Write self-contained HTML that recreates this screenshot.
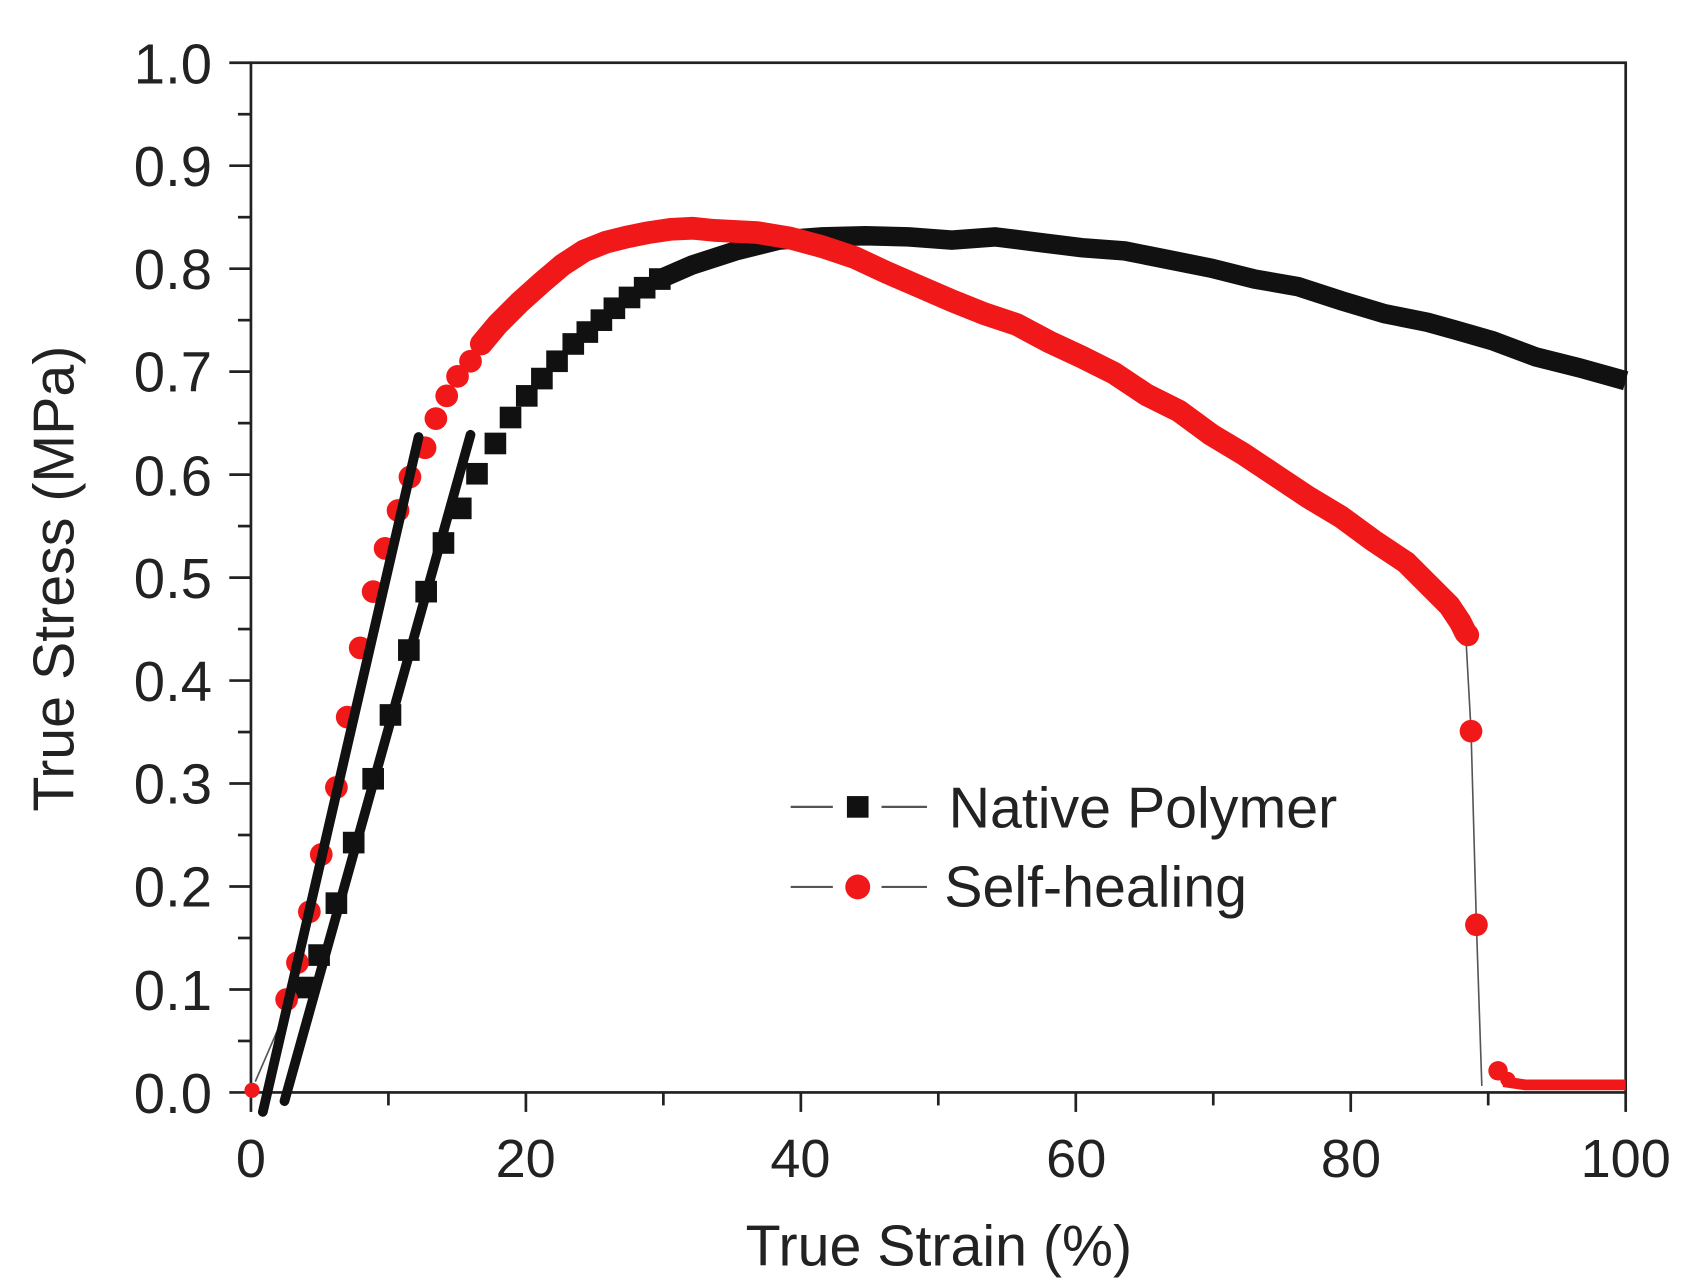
<!DOCTYPE html>
<html><head><meta charset="utf-8"><style>
html,body{margin:0;padding:0;background:#fff;}
svg{display:block;}
text{font-family:"Liberation Sans",sans-serif;fill:#222;}
</style></head><body>
<svg width="1696" height="1288" viewBox="0 0 1568 1190.8" xmlns="http://www.w3.org/2000/svg">
<rect width="1568" height="1190.8" fill="#fff"/>
<rect x="232" y="58" width="1271" height="952" fill="none" stroke="#222" stroke-width="2.5"/>
<g stroke="#222" stroke-width="2.5">
<line x1="212" y1="58" x2="232" y2="58"/><line x1="212" y1="153.2" x2="232" y2="153.2"/><line x1="212" y1="248.4" x2="232" y2="248.4"/><line x1="212" y1="343.6" x2="232" y2="343.6"/><line x1="212" y1="438.8" x2="232" y2="438.8"/><line x1="212" y1="534" x2="232" y2="534"/><line x1="212" y1="629.2" x2="232" y2="629.2"/><line x1="212" y1="724.4" x2="232" y2="724.4"/><line x1="212" y1="819.6" x2="232" y2="819.6"/><line x1="212" y1="914.8" x2="232" y2="914.8"/><line x1="212" y1="1010" x2="232" y2="1010"/>
<line x1="220" y1="105.6" x2="232" y2="105.6"/><line x1="220" y1="200.8" x2="232" y2="200.8"/><line x1="220" y1="296" x2="232" y2="296"/><line x1="220" y1="391.2" x2="232" y2="391.2"/><line x1="220" y1="486.4" x2="232" y2="486.4"/><line x1="220" y1="581.6" x2="232" y2="581.6"/><line x1="220" y1="676.8" x2="232" y2="676.8"/><line x1="220" y1="772" x2="232" y2="772"/><line x1="220" y1="867.2" x2="232" y2="867.2"/><line x1="220" y1="962.4" x2="232" y2="962.4"/>
<line x1="232" y1="1010" x2="232" y2="1028"/><line x1="486.2" y1="1010" x2="486.2" y2="1028"/><line x1="740.4" y1="1010" x2="740.4" y2="1028"/><line x1="994.6" y1="1010" x2="994.6" y2="1028"/><line x1="1248.8" y1="1010" x2="1248.8" y2="1028"/><line x1="1503" y1="1010" x2="1503" y2="1028"/>
<line x1="359.1" y1="1010" x2="359.1" y2="1022"/><line x1="613.3" y1="1010" x2="613.3" y2="1022"/><line x1="867.5" y1="1010" x2="867.5" y2="1022"/><line x1="1121.7" y1="1010" x2="1121.7" y2="1022"/><line x1="1375.9" y1="1010" x2="1375.9" y2="1022"/>
</g>
<g font-size="52" text-anchor="end">
<text x="196" y="77">1.0</text><text x="196" y="172">0.9</text><text x="196" y="267">0.8</text><text x="196" y="362">0.7</text><text x="196" y="458">0.6</text><text x="196" y="553">0.5</text><text x="196" y="648">0.4</text><text x="196" y="743">0.3</text><text x="196" y="838">0.2</text><text x="196" y="934">0.1</text><text x="196" y="1029">0.0</text>
</g>
<g font-size="50" text-anchor="middle">
<text x="232" y="1088">0</text><text x="486" y="1088">20</text><text x="740" y="1088">40</text><text x="995" y="1088">60</text><text x="1249" y="1088">80</text><text x="1503" y="1088">100</text>
</g>
<text x="868" y="1170" font-size="53" text-anchor="middle">True Strain (%)</text>
<text transform="translate(68,535) rotate(-90)" font-size="53" text-anchor="middle">True Stress (MPa)</text>

<polyline points="236,1000 262,940 283,913" fill="none" stroke="#555" stroke-width="1.5"/>
<polyline points="1355,585 1360,675 1365,855 1370,1004" fill="none" stroke="#555" stroke-width="1.5"/>

<polyline points="610,258 640,245 680,232 720,222 760,219 800,218 840,219 880,222 920,219 960,224 1000,229 1040,232 1080,240 1120,248 1160,258 1200,265 1240,278 1280,290 1320,298 1345,305 1380,315 1420,330 1460,340 1503,352" fill="none" stroke="#111" stroke-width="18"/>
<g fill="#111">
<rect x="273" y="903" width="20" height="20"/><rect x="285" y="873" width="20" height="20"/><rect x="301" y="825" width="20" height="20"/><rect x="317" y="769" width="20" height="20"/><rect x="335" y="710" width="20" height="20"/><rect x="351" y="651" width="20" height="20"/><rect x="368" y="591" width="20" height="20"/><rect x="384" y="537" width="20" height="20"/><rect x="400" y="492" width="20" height="20"/><rect x="416" y="460" width="20" height="20"/><rect x="431" y="428" width="20" height="20"/><rect x="448" y="400" width="20" height="20"/><rect x="462" y="376" width="20" height="20"/><rect x="477" y="356" width="20" height="20"/><rect x="491" y="340" width="20" height="20"/><rect x="505" y="324" width="20" height="20"/><rect x="520" y="308" width="20" height="20"/><rect x="533" y="297" width="20" height="20"/><rect x="546" y="286" width="20" height="20"/><rect x="558" y="275" width="20" height="20"/><rect x="572" y="265" width="20" height="20"/><rect x="586" y="256" width="20" height="20"/><rect x="600" y="248" width="20" height="20"/>
</g>

<polyline points="445,318 460,300 480,280 500,262 520,245 540,232 560,224 580,219 600,215 620,212 640,211 660,213 700,215 730,220 760,228 790,238 820,252 850,265 880,278 910,290 940,300 970,316 1000,330 1030,345 1060,365 1090,380 1120,402 1150,420 1180,440 1210,460 1240,478 1270,500 1300,520 1320,540 1340,560 1350,575 1355,585" fill="none" stroke="#f01818" stroke-width="21" stroke-linecap="round" stroke-linejoin="round"/>
<polyline points="1390,1000 1410,1003 1503,1003" fill="none" stroke="#f01818" stroke-width="10"/>
<g fill="#f01818">
<circle cx="233" cy="1008" r="7"/><circle cx="265" cy="924" r="10.5"/><circle cx="275" cy="890" r="10.5"/><circle cx="286" cy="843" r="10.5"/><circle cx="297" cy="790" r="10.5"/><circle cx="311" cy="728" r="10.5"/><circle cx="321" cy="663" r="10.5"/><circle cx="333" cy="599" r="10.5"/><circle cx="345" cy="547" r="10.5"/><circle cx="356" cy="507" r="10.5"/><circle cx="368" cy="472" r="10.5"/><circle cx="379" cy="441" r="10.5"/><circle cx="393" cy="414" r="10.5"/><circle cx="403" cy="387" r="10.5"/><circle cx="413" cy="366" r="10.5"/><circle cx="423" cy="348" r="10.5"/><circle cx="435" cy="334" r="10.5"/>
<circle cx="1357" cy="587" r="10.5"/><circle cx="1360" cy="676" r="10.5"/><circle cx="1365" cy="855" r="10.5"/><circle cx="1385" cy="990" r="9"/><circle cx="1394" cy="998" r="7"/>
</g>

<line x1="243" y1="1028" x2="387" y2="404" stroke="#111" stroke-width="9" stroke-linecap="round"/>
<line x1="263" y1="1018" x2="435" y2="402" stroke="#111" stroke-width="9" stroke-linecap="round"/>

<line x1="731" y1="746" x2="770" y2="746" stroke="#555" stroke-width="2"/>
<line x1="815" y1="746" x2="857" y2="746" stroke="#555" stroke-width="2"/>
<rect x="783" y="736" width="20" height="20" fill="#111"/>
<text x="877" y="765" font-size="53">Native Polymer</text>
<line x1="731" y1="820" x2="770" y2="820" stroke="#555" stroke-width="2"/>
<line x1="815" y1="820" x2="857" y2="820" stroke="#555" stroke-width="2"/>
<circle cx="793" cy="820" r="11.5" fill="#f01818"/>
<text x="873" y="838" font-size="53">Self-healing</text>
</svg>
</body></html>
